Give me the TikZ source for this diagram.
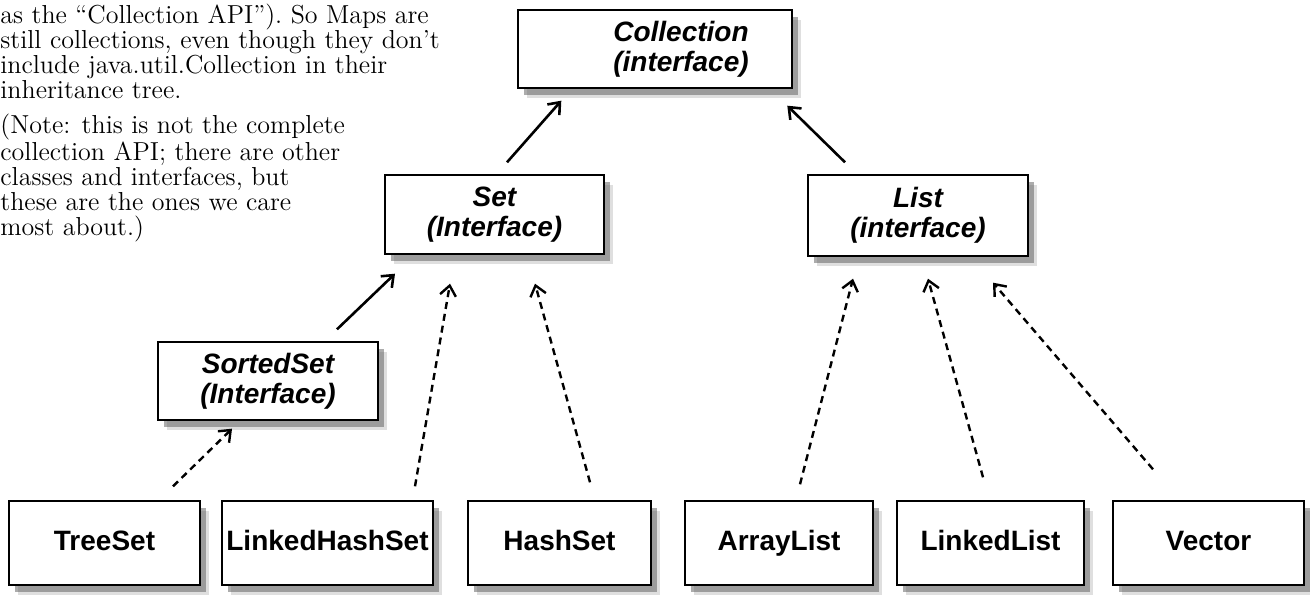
\documentclass[tikz,border=0pt]{standalone}
\usepackage{fontspec}
\newfontfamily\boxfont{Liberation Sans}
\usepackage{tikz}
\usetikzlibrary{positioning, arrows.meta, shadows}

\begin{document}
\begin{tikzpicture}[
      x=0.5pt, y=0.5pt,
      >={Straight Barb[length=5pt,width=8pt]},
      box/.style={draw, line width=0.7pt, fill=white, align=center, inner sep=0pt,
        drop shadow={shadow xshift=4.5pt, shadow yshift=-5pt, fill=black!25},
        drop shadow={shadow xshift=3pt, shadow yshift=-3.5pt, fill=black!65}},
      iface/.style={box, font=\boxfont\fontsize{14}{15}\selectfont\bfseries\itshape},
      cls/.style={box, minimum height=42pt, text height=10pt, text depth=3pt,
        font=\boxfont\fontsize{14}{15}\selectfont\bfseries},
      inherit/.style={->, line width=1.3pt},
      impl/.style={->, line width=1.2pt, dash pattern=on 3.5pt off 2.5pt},
      note/.style={align=left, inner sep=0pt, anchor=north west, font=\fontsize{13}{12.5}\selectfont}
    ]
    \useasboundingbox (0,0) rectangle (1310,594);

    % side text
    \node[note] (intro) at (0,590.5) {as the “Collection API”). So Maps are\\
      still collections, even though they don’t\\
      include java.util.Collection in their\\
      inheritance tree.};
    \node[note] (remark) at (0,480.5) {(Note: this is not the complete\\
      collection API; there are other\\
      classes and interfaces, but\\
      these are the ones we care\\
      most about.)};

    % interfaces
    \node[iface, minimum width=137pt, minimum height=39pt] (coll) at (655,545)
      {\hspace*{26pt}Collection\\\hspace*{26pt}(interface)};
    \node[iface, minimum width=109.5pt, minimum height=39.5pt] (set) at (494.5,379.5) {Set\\(Interface)};
    \node[iface, minimum width=110pt, minimum height=40.5pt] (list) at (918,378.5) {List\\(interface)};
    \node[iface, minimum width=110pt, minimum height=39pt] (sorted) at (268,213) {SortedSet\\(Interface)};

    % classes
    \node[cls, minimum width=95.5pt] (treeset) at (104.5,51) {TreeSet};
    \node[cls, minimum width=105.5pt] (lhset) at (327.5,51) {LinkedHashSet};
    \node[cls, minimum width=91.5pt] (hashset) at (559.5,51) {HashSet};
    \node[cls, minimum width=94pt] (arraylist) at (779,51) {ArrayList};
    \node[cls, minimum width=93.5pt] (linkedlist) at (990.5,51) {LinkedList};
    \node[cls, minimum width=95.5pt] (vector) at (1208.5,51) {Vector};

    % extends
    \draw[inherit] ([shift={(12.5,12)}]set.north) -- ([shift={(44,-12)}]coll.south west);
    \draw[inherit] ([shift={(-73,12)}]list.north) -- ([shift={(270,-17)}]coll.south west);
    \draw[inherit] ([shift={(69,12)}]sorted.north) -- ([shift={(-99.5,-19)}]set.south);

    % implements
    \draw[impl] ([shift={(68.5,14)}]treeset.north) -- ([shift={(-36,-8)}]sorted.south);
    \draw[impl] ([shift={(87.5,14)}]lhset.north) -- ([shift={(-44.5,-29)}]set.south);
    \draw[impl] ([shift={(30.5,18)}]hashset.north) -- ([shift={(40.5,-29)}]set.south);
    \draw[impl] ([shift={(21,16)}]arraylist.north) -- ([shift={(-65,-22)}]list.south);
    \draw[impl] ([shift={(-7.5,23)}]linkedlist.north) -- ([shift={(10,-22)}]list.south);
    \draw[impl] ([shift={(-55.5,31)}]vector.north) -- ([shift={(75,-26)}]list.south);

\end{tikzpicture}
\end{document}
